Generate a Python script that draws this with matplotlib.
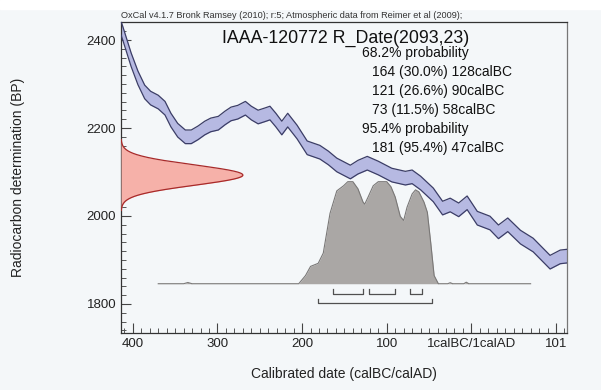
import numpy as np
import matplotlib.pyplot as plt

plt.rcParams['font.family'] = ['Liberation Sans', 'DejaVu Sans']

# IntCal09 calibration curve (calendar year, BC negative) and 14C age (BP)
curve_year = [-414, -412, -402, -394, -386, -379, -370, -362, -355, -347, -338, -331,
              -323, -315, -308, -299, -291, -284, -276, -267, -260, -252, -244, -238,
              -231, -224, -217, -206, -194, -179, -169, -159, -143, -134, -123, -110,
              -94, -78, -70, -60, -45, -34, -25, -15, -5, 7, 22, 32, 43, 58, 73, 93,
              105, 114]
curve_bp = [2427, 2416, 2355, 2314, 2282, 2268, 2259, 2245, 2218, 2195, 2180, 2180,
            2189, 2200, 2207, 2211, 2223, 2232, 2236, 2245, 2234, 2225, 2230, 2234,
            2218, 2200, 2218, 2191, 2155, 2145, 2132, 2116, 2100, 2111, 2120, 2109,
            2093, 2086, 2089, 2075, 2048, 2018, 2025, 2014, 2030, 1995, 1984, 1964,
            1980, 1952, 1934, 1895, 1907, 1909]
curve_sigma = 15.5

# measured date
lab_code = 'IAAA-120772'
r_date = 2093
r_error = 23

# calibrated probability (relative)
post_year = [-370, -340, -335, -330, -204, -196, -190, -181, -175, -167, -159, -151,
             -146, -140, -134, -128, -126, -122, -116, -110, -100, -95, -90, -84,
             -80, -76, -70, -66, -62, -56, -52, -48, -44, -39, -28, -25, -22, -9,
             -6, -3, 70]
post_prob = [0, 0, 0.012, 0, 0, 0.08, 0.17, 0.20, 0.30, 0.69, 0.91, 0.96,
             1.0, 1.0, 0.93, 0.80, 0.78, 0.85, 0.96, 1.0, 1.0, 0.95, 0.85, 0.66,
             0.62, 0.75, 0.88, 0.92, 0.90, 0.80, 0.70, 0.40, 0.08, 0, 0, 0.01, 0,
             0, 0.015, 0, 0]

# highest probability ranges (years BC)
ranges_68 = [(164, 128, 30.0), (121, 90, 26.6), (73, 58, 11.5)]
ranges_95 = [(181, 47, 95.4)]

bg = '#f4f7f9'
fig = plt.figure(figsize=(6.01, 3.9), dpi=100, facecolor=bg)
fig.patches.append(plt.Rectangle((0, 0.977), 1, 0.023, transform=fig.transFigure,
                                 color='white', zorder=0))
ax = fig.add_axes([121 / 601, 57 / 390, 446 / 601, 311 / 390], facecolor=bg)

# calibration curve band
cy = np.array(curve_year)
cb = np.array(curve_bp)
ax.fill_between(cy, cb - curve_sigma, cb + curve_sigma, color='#b6b9e2', lw=0, zorder=2)
ax.plot(cy, cb + curve_sigma, color='#3b3d66', lw=0.9, zorder=3)
ax.plot(cy, cb - curve_sigma, color='#3b3d66', lw=0.9, zorder=3)

# radiocarbon date distribution on the y axis
x0 = -414
yy = np.linspace(r_date - 3.5 * r_error, r_date + 3.5 * r_error, 300)
dens = np.exp(-0.5 * ((yy - r_date) / r_error) ** 2)
ax.fill_betweenx(yy, x0, x0 + 144 * dens, color='#f6b1a9', lw=0, zorder=4)
ax.plot(x0 + 144 * dens, yy, color='#a82a2a', lw=0.9, zorder=5)

# calibrated distribution
base = 1846
height = 232
py = base + height * np.array(post_prob)
ax.fill_between(post_year, base, py, color='#aaa7a5', lw=0, zorder=4)
ax.plot(post_year, py, color='#7a7877', lw=0.8, zorder=5)

# range brackets
def bracket(y0, y1, y_line, y_top):
    ax.plot([y0, y0, y1, y1], [y_top, y_line, y_line, y_top], color='#505050', lw=0.9, zorder=5)

for a, b, _ in ranges_68:
    bracket(-a, -b, 1823, 1834)
for a, b, _ in ranges_95:
    bracket(-a, -b, 1802, 1811)

# text
fig.text(222 / 601, 1 - 38 / 390, f'{lab_code} R_Date({r_date},{r_error})',
         fontsize=12.8, va='center', ha='left', color='#111111')
lines = [('68.2% probability', 362)]
for a, b, pct in ranges_68:
    lines.append((f'{a} ({pct:.1f}%) {b}calBC', 372))
lines.append(('95.4% probability', 362))
for a, b, pct in ranges_95:
    lines.append((f'{a} ({pct:.1f}%) {b}calBC', 372))
for i, (s, xp) in enumerate(lines):
    fig.text(xp / 601, 1 - (53 + 19 * i) / 390, s, fontsize=10, va='center',
             ha='left', color='#111111')
fig.text(121 / 601, 1 - 16 / 390,
         'OxCal v4.1.7 Bronk Ramsey (2010); r:5; Atmospheric data from Reimer et al (2009);',
         fontsize=6.6, va='center', ha='left', color='#333333')

ax.set_xlim(-414, 113)
ax.set_ylim(1734, 2441)
ax.set_xticks([-400, -300, -200, -100, 0, 100])
ax.set_xticklabels(['400', '300', '200', '100', '1calBC/1calAD', '101'])
ax.set_xticks(np.arange(-410, 114, 10), minor=True)
ax.set_yticks([1800, 2000, 2200, 2400])
ax.set_yticks(np.arange(1740, 2441, 20), minor=True)
ax.tick_params(which='major', direction='in', length=7, width=0.8, labelsize=9.5,
               color='#444444', labelcolor='#222222')
ax.tick_params(which='minor', direction='in', length=3.5, width=0.7, color='#555555')
ax.set_xlabel('Calibrated date (calBC/calAD)', fontsize=10, color='#222222', labelpad=12)
ax.set_ylabel('Radiocarbon determination (BP)', fontsize=10, color='#222222', labelpad=44)
for s in ax.spines.values():
    s.set_color('#333333')
    s.set_linewidth(0.9)
ax.spines['right'].set_color('#777777')

fig.savefig('out.png', dpi=100, facecolor=bg)
